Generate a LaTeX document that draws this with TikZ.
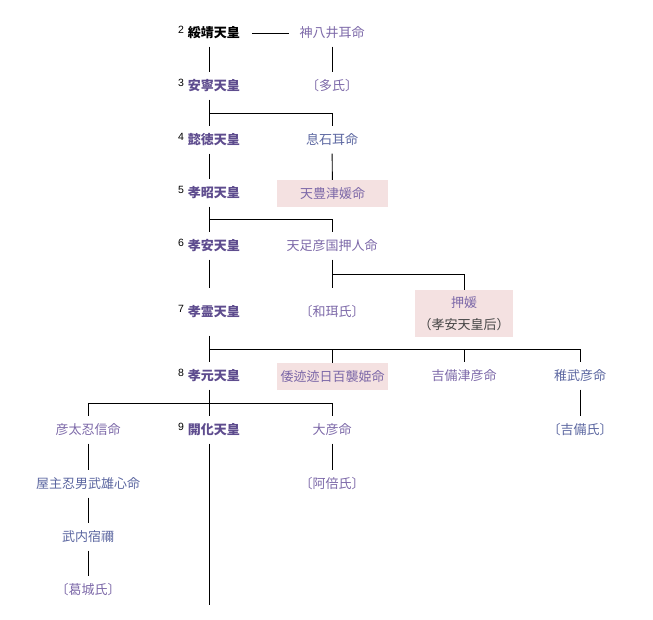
\documentclass[tikz,border=0pt]{standalone}
\usepackage{fontspec}
\setmainfont{Liberation Sans}
\newfontfamily\jp{Noto Sans CJK JP}
\usetikzlibrary{calc}
\definecolor{empc}{HTML}{5E4C8E}
\definecolor{visc}{HTML}{7C68A8}
\definecolor{lnkc}{HTML}{5B66A0}
\definecolor{pinkbg}{HTML}{F4E1E1}
\definecolor{notec}{HTML}{444444}
\newcommand{\sn}[1]{\raisebox{4.5pt}{\rmfamily\mdseries\color{black}\fontsize{10.5}{11}\selectfont #1}\hspace{3.7pt}}
\tikzset{
  base/.style={inner sep=0pt, text height=11pt, text depth=2pt, minimum height=27pt, font=\jp\fontsize{13}{15}\selectfont},
  emp/.style={base, text=empc, font=\jp\bfseries\fontsize{13}{15}\selectfont},
  vis/.style={base, text=visc},
  lnk/.style={base, text=lnkc},
  hl/.style={fill=pinkbg, minimum width=111pt},
  ln/.style={line width=0.9pt, black}
}
\begin{document}
\begin{tikzpicture}[x=1pt,y=-1pt]
\useasboundingbox (0,0) rectangle (653,619);
% emperors
\node[emp, text=black] (e2) at (209,33) {\sn{2}綏靖天皇};
\node[emp] (e3) at (209,86) {\sn{3}安寧天皇};
\node[emp] (e4) at (209,140) {\sn{4}懿徳天皇};
\node[emp] (e5) at (209,193) {\sn{5}孝昭天皇};
\node[emp] (e6) at (209,246) {\sn{6}孝安天皇};
\node[emp, minimum height=47pt] (e7) at (209,312) {\sn{7}孝霊天皇};
\node[emp] (e8) at (209,376) {\sn{8}孝元天皇};
\node[emp] (e9) at (209,430) {\sn{9}開化天皇};
\coordinate (end9) at (209,605);
% column 2
\node[vis] (kamuya) at (332,33) {神八井耳命};
\node[vis] (oo) at (332,86) {〔多氏〕};
\node[lnk] (okiso) at (332,140) {息石耳命};
\node[vis, hl] (amatoyo) at (332.5,193.5) {天豊津媛命};
\node[vis] (amatari) at (332,246) {天足彦国押人命};
\node[vis, minimum height=47pt] (wani) at (332,312) {〔和珥氏〕};
\node[vis, hl] (yamato) at (332.5,376.5) {倭迹迹日百襲姫命};
\node[vis] (ohiko) at (332,430) {大彦命};
\node[vis] (abe) at (332,484) {〔阿倍氏〕};
% column 3
\node[fill=pinkbg, minimum width=98pt, minimum height=47pt, inner sep=0pt, align=center,
      font=\jp\fontsize{13}{23}\selectfont] (oshi) at (464,313.5)
      {\textcolor{visc}{押媛}\\[-0.5pt]\textcolor{notec}{（孝安天皇后）}};
\node[vis] (kibitsu) at (464,376) {吉備津彦命};
% column 4
\node[lnk] (wakatake) at (580,376) {稚武彦命};
\node[lnk] (kibi) at (580,430) {〔吉備氏〕};
% left column
\node[vis] (hikofuto) at (88,430) {彦太忍信命};
\node[lnk] (yanushi) at (88,484) {屋主忍男武雄心命};
\node[lnk] (takeuchi) at (88,537) {武内宿禰};
\node[vis] (katsuragi) at (88,590) {〔葛城氏〕};
% connectors
\draw[ln, shorten <=12pt, shorten >=10pt] (e2.east) -- (kamuya.west);
\draw[ln] (e2) -- (e3);
\draw[ln] (kamuya) -- (oo);
\draw[ln] (e3) -- (e4);
\draw[ln] ($(e3.south)!0.5!(e4.north)$) -| (okiso.north);
\draw[ln] (e4) -- (e5);
\draw[ln] (okiso) -- (amatoyo);
\draw[ln] (e5) -- (e6);
\draw[ln] ($(e5.south)!0.5!(e6.north)$) -| (amatari.north);
\draw[ln] (e6) -- (e7);
\draw[ln] (amatari) -- (wani);
\draw[ln] ($(amatari.south)!0.5!(wani.north)$) -| (oshi.north);
\draw[ln] (e7) -- (e8);
\draw[ln] ($(e7.south)!0.5!(e8.north)$) -| (yamato.north);
\draw[ln] ($(e7.south)!0.5!(e8.north)$) -| (kibitsu.north);
\draw[ln] ($(e7.south)!0.5!(e8.north)$) -| (wakatake.north);
\draw[ln] (wakatake) -- (kibi);
\draw[ln] (e8) -- (e9);
\draw[ln] ($(e8.south)!0.5!(e9.north)$) -| (hikofuto.north);
\draw[ln] ($(e8.south)!0.5!(e9.north)$) -| (ohiko.north);
\draw[ln] (e9) -- (end9);
\draw[ln] (ohiko) -- (abe);
\draw[ln] (hikofuto) -- (yanushi);
\draw[ln] (yanushi) -- (takeuchi);
\draw[ln] (takeuchi) -- (katsuragi);
\end{tikzpicture}
\end{document}
